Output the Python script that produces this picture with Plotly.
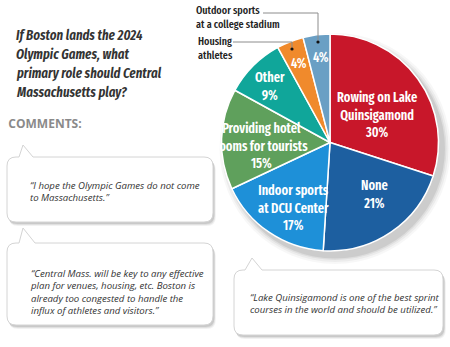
import plotly.graph_objects as go

# ---- data ----
categories = ["Rowing on Lake Quinsigamond", "None", "Indoor sports at DCU Center",
              "Providing hotel rooms for tourists", "Other", "Housing athletes",
              "Outdoor sports at a college stadium"]
values = [30, 21, 17, 15, 9, 4, 4]
colors = ["#c8172a", "#1d5fa0", "#1e90d8", "#5fa05c", "#10a69a", "#f08a2c", "#6a9fc4"]
slice_text = ["Rowing on Lake<br>Quinsigamond<br>30%", "None<br>21%",
              "Indoor sports<br>at DCU Center<br>17%", "Providing hotel<br>rooms for tourists<br>15%",
              "Other<br>9%", "4%", "4%"]
comments = [
    ["\u201cI hope the Olympic Games do not come", "to Massachusetts.\u201d"],
    ["\u201cCentral Mass. will be key to any effective", "plan for venues, housing, etc. Boston is",
     "already too congested to handle the", "influx of athletes and visitors.\u201d"],
    ["\u201cLake Quinsigamond is one of the best sprint", "courses in the world and should be utilized.\u201d"],
]
title_lines = ["If Boston lands the 2024", "Olympic Games, what", "primary role should Central",
               "Massachusetts play?"]

W, H = 450, 347
XCOND = "Fira Sans Extra Condensed, Fira Sans Condensed, PT Sans Narrow, DejaVu Sans Condensed, sans-serif"
BODY = "Source Sans 3, Open Sans, DejaVu Sans, sans-serif"

# pie geometry (pixels)
cx, cy, R = 330, 142.5, 108.5

fig = go.Figure()
fig.add_trace(go.Scatter(x=[], y=[], hoverinfo="skip", showlegend=False))
fig.add_trace(go.Pie(
    labels=categories, values=values, sort=False, direction="clockwise", rotation=0,
    marker=dict(colors=colors, line=dict(color="white", width=1.5)),
    textinfo="none", hoverinfo="label+percent", showlegend=False,
    domain=dict(x=[(cx - R) / W, (cx + R) / W], y=[(H - cy - R) / H, (H - cy + R) / H]),
))

shapes = []
# pie shadow
for dr, op in [(7, 0.03), (5, 0.045), (3, 0.06), (1.5, 0.08)]:
    shapes.append(dict(type="circle", xref="x", yref="y",
                       x0=cx - R + 5 - dr, x1=cx + R + 5 + dr, y0=cy - R + 6 - dr, y1=cy + R + 6 + dr,
                       fillcolor=f"rgba(0,0,0,{op})", line=dict(width=0), layer="below"))


def bubble(x0, y0, x1, y1, t0, t1, ax, ay, r=9):
    return (f"M {x0+r},{y0} L {t0},{y0} L {ax},{ay} L {t1},{y0} L {x1-r},{y0} "
            f"Q {x1},{y0} {x1},{y0+r} L {x1},{y1-r} Q {x1},{y1} {x1-r},{y1} "
            f"L {x0+r},{y1} Q {x0},{y1} {x0},{y1-r} L {x0},{y0+r} Q {x0},{y0} {x0+r},{y0} Z")


bubbles = [(7, 157, 213, 222, 19, 33, 23, 145),
           (7, 243, 213, 325, 19, 35, 23, 228),
           (234, 270, 443, 335, 245, 262, 252, 258)]
for b in bubbles:
    x0, y0, x1, y1, t0, t1, ax, ay = b
    for off, op in [(4, 0.05), (3, 0.07), (2, 0.1)]:
        shapes.append(dict(type="path", xref="x", yref="y",
                           path=bubble(x0 + off * 0.5, y0 + off, x1 + off * 0.7, y1 + off, t0, t1, ax, ay + off),
                           fillcolor=f"rgba(0,0,0,{op})", line=dict(width=0), layer="below"))
    shapes.append(dict(type="path", xref="x", yref="y", path=bubble(*b),
                       fillcolor="white", line=dict(color="#d4d4d4", width=1), layer="below"))

# leader lines
shapes.append(dict(type="path", xref="x", yref="y", path="M 263,13 L 318,13 L 318,42",
                   line=dict(color="#8c8c8c", width=1)))
shapes.append(dict(type="path", xref="x", yref="y", path="M 233,42 L 292,42 L 292,49",
                   line=dict(color="#8c8c8c", width=1)))
for (dx, dy) in [(318, 42), (292, 49)]:
    shapes.append(dict(type="circle", xref="x", yref="y", x0=dx - 1.6, x1=dx + 1.6, y0=dy - 1.6, y1=dy + 1.6,
                       fillcolor="#111", line=dict(width=0)))

ann = []
# title
for i, t in enumerate(title_lines):
    ann.append(dict(x=14, y=35 + 19 * i, text=t, xanchor="left", yanchor="middle",
                    align="left", showarrow=False,
                    font=dict(family=XCOND, size=14, color="#333333", weight=600, style="italic")))
ann.append(dict(x=5, y=124, text="COMMENTS:", xanchor="left", yanchor="middle", showarrow=False,
                font=dict(family=BODY, size=12, color="#8a8a8a", weight=700)))
# outer labels
ann.append(dict(x=194, y=17, text="Outdoor sports<br>at a college stadium", xanchor="left",
                yanchor="middle", align="left", showarrow=False,
                font=dict(family=XCOND, size=11, color="#222222", weight=500)))
ann.append(dict(x=196, y=48, text="Housing<br>athletes", xanchor="left", yanchor="middle",
                align="left", showarrow=False, font=dict(family=XCOND, size=11, color="#222222", weight=500)))
# slice labels
pos = [(377, 115), (374, 194), (293, 208), (261, 146), (270, 86), (299, 63), (321, 57)]
for t, (px, py) in zip(slice_text, pos):
    ann.append(dict(x=px, y=py, text=t, xanchor="center", yanchor="middle",
                    align="center", showarrow=False,
                    font=dict(family=XCOND, size=13.5, color="white", weight=600)))
# comments (one block per bubble)
ccenter = [(28, 191), (28, 292), (248, 303)]
for lines, (px, py) in zip(comments, ccenter):
    ann.append(dict(x=px, y=py, text="<br>".join(lines), xanchor="left", yanchor="middle",
                    align="left", showarrow=False,
                    font=dict(family=BODY, size=9.6, color="#333333", style="italic")))

fig.update_layout(
    width=W, height=H, margin=dict(l=0, r=0, t=0, b=0),
    paper_bgcolor="white", plot_bgcolor="white",
    xaxis=dict(range=[0, W], visible=False, domain=[0, 1], fixedrange=True),
    yaxis=dict(range=[H, 0], visible=False, domain=[0, 1], fixedrange=True),
    shapes=shapes, annotations=ann,
)
fig.write_html("out.html")
